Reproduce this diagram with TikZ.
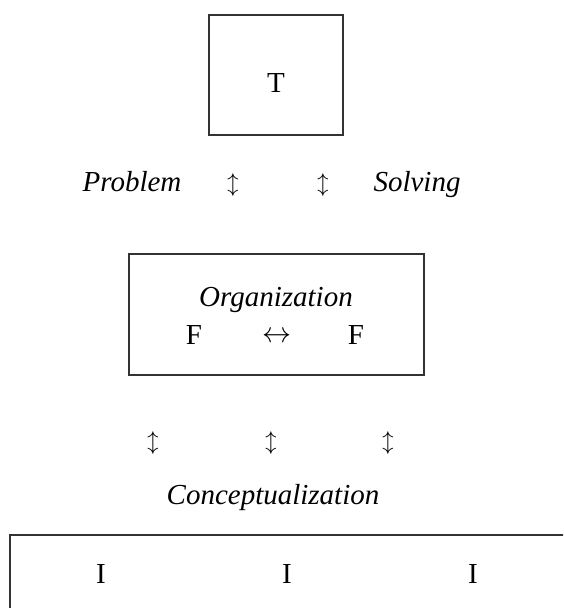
\documentclass[tikz,border=0pt]{standalone}
\usepackage{fontspec}
\setmainfont{Liberation Serif}
\usepackage{tikz}
\usetikzlibrary{positioning}

\begin{document}
\begin{tikzpicture}[x=0.4138pt, y=-0.4138pt,
    box/.style={draw=black!80, line width=0.8pt, inner sep=0pt},
    word/.style={font=\fontsize{12}{14}\selectfont\itshape, anchor=base},
    letter/.style={font=\fontsize{12}{14}\selectfont, anchor=base},
    vlink/.style={inner sep=0pt, font=\fontsize{9.4}{11}\selectfont},
    hlink/.style={inner sep=0pt, font=\fontsize{12}{14}\selectfont}]
  \useasboundingbox (0,0) rectangle (563,608);
  \clip (0,0) rectangle (563,608);
  % top: T
  \node[box, minimum width=55.4pt, minimum height=49.7pt] (tbox) at (276,75) {};
  \node[letter] (t) at (276,93) {T};
  % problem solving row
  \node[word] (problem) at (132,192) {Problem};
  \node[vlink] (ps1) at (233,185) {$\updownarrow$};
  \node[vlink] (ps2) at (323,185) {$\updownarrow$};
  \node[word] (solving) at (417,192) {Solving};
  % organization box
  \node[box, minimum width=122pt, minimum height=50pt] (obox) at (276.5,314.5) {};
  \node[word] (org) at (276,306) {Organization};
  \node[letter] (f1) at (194,344) {F};
  \node[hlink] (ff) at (277,337) {$\leftrightarrow$};
  \node[letter] (f2) at (356,344) {F};
  % conceptualization row
  \node[vlink] (c1) at (153,443) {$\updownarrow$};
  \node[vlink] (c2) at (271,443) {$\updownarrow$};
  \node[vlink] (c3) at (388,443) {$\updownarrow$};
  \node[word] (concept) at (273,504) {Conceptualization};
  % bottom box, runs off the page
  \node[box, anchor=north west, minimum width=290pt, minimum height=60pt] (ibox) at (9,534) {};
  \node[letter] (i1) at (101,583) {I};
  \node[letter] (i2) at (287,583) {I};
  \node[letter] (i3) at (473,583) {I};
\end{tikzpicture}
\end{document}
